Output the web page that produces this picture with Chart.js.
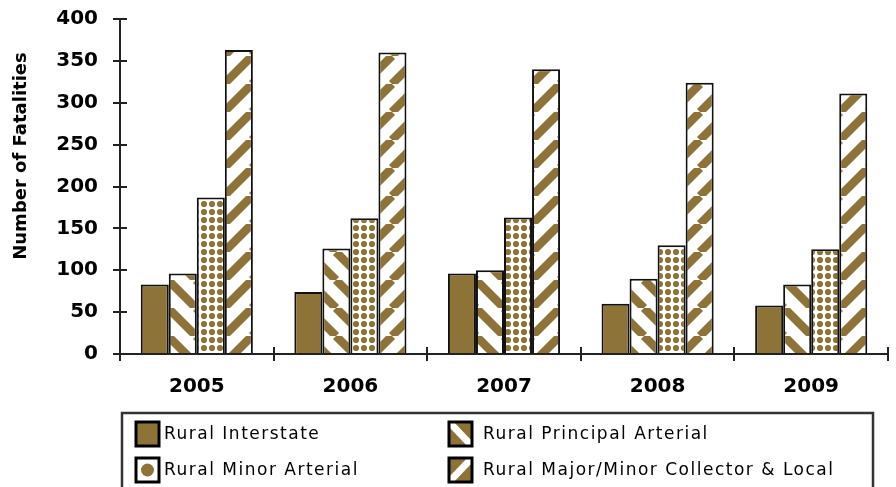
<!DOCTYPE html>
<html>
<head>
<meta charset="utf-8">
<script src="https://cdn.jsdelivr.net/npm/chart.js@4/dist/chart.umd.min.js"></script>
<style>
  html, body { margin: 0; padding: 0; background: #fff; }
  #wrap { width: 896px; height: 487px; position: relative; }
</style>
</head>
<body>
<div id="wrap"><canvas id="chart" width="896" height="487"></canvas></div>
<script>
// data
const years = ['2005', '2006', '2007', '2008', '2009'];
const seriesNames = ['Rural Interstate', 'Rural Principal Arterial', 'Rural Minor Arterial', 'Rural Major/Minor Collector & Local'];
const interstate = [83, 74, 96, 60, 58];
const principal = [96, 126, 100, 90, 83];
const minorArterial = [187, 162, 163, 130, 125];
const collector = [363, 360, 340, 324, 311];
const yTicks = [0, 50, 100, 150, 200, 250, 300, 350, 400];

const BROWN = '#8D7338';
const FONT = '"DejaVu Sans", sans-serif';

// pattern helpers
function stripePattern(dir) {
    const s = 28;
    const c = document.createElement('canvas');
    c.width = s; c.height = s;
    const g = c.getContext('2d');
    g.fillStyle = '#fff';
    g.fillRect(0, 0, s, s);
    g.strokeStyle = BROWN;
    g.lineWidth = 8.5;
    for (let k = -1; k <= 1; k++) {
        g.beginPath();
        if (dir === '/') {
            g.moveTo(k * s, s); g.lineTo(k * s + s, 0);
        } else {
            g.moveTo(k * s, 0); g.lineTo(k * s + s, s);
        }
        g.stroke();
    }
    return document.getElementById('chart').getContext('2d').createPattern(c, 'repeat');
}

function dotPattern() {
    const s = 8;
    const c = document.createElement('canvas');
    c.width = s; c.height = s;
    const g = c.getContext('2d');
    g.fillStyle = '#fff';
    g.fillRect(0, 0, s, s);
    g.fillStyle = BROWN;
    g.beginPath();
    g.arc(s / 2, s / 2, 3.1, 0, Math.PI * 2);
    g.fill();
    return document.getElementById('chart').getContext('2d').createPattern(c, 'repeat');
}

const fills = [BROWN, stripePattern('\\'), dotPattern(), stripePattern('/')];
const seriesData = [interstate, principal, minorArterial, collector];

// y axis title, drawn by hand so it sits where the original has it
const yTitlePlugin = {
    id: 'yTitle',
    afterDraw(chart) {
        const ctx = chart.ctx;
        ctx.save();
        ctx.translate(21, 156);
        ctx.rotate(-Math.PI / 2);
        ctx.font = 'bold 18px ' + FONT;
        ctx.fillStyle = '#000';
        ctx.textAlign = 'center';
        ctx.textBaseline = 'middle';
        ctx.fillText('Number of Fatalities', 0, 0);
        ctx.restore();
    }
};

// tick marks that cross the axis lines (inner half)
const crossTicksPlugin = {
    id: 'crossTicks',
    afterDraw(chart) {
        const ctx = chart.ctx;
        const xs = chart.scales.x, ys = chart.scales.y;
        const area = chart.chartArea;
        ctx.save();
        ctx.strokeStyle = '#222';
        ctx.lineWidth = 2;
        ctx.beginPath();
        for (let i = 0; i <= years.length; i++) {
            const px = Math.round(xs.getPixelForValue(i - 0.5));
            ctx.moveTo(px, area.bottom);
            ctx.lineTo(px, area.bottom - 7);
        }
        yTicks.forEach(v => {
            const py = Math.round(ys.getPixelForValue(v));
            ctx.moveTo(area.left, py);
            ctx.lineTo(area.left + 7, py);
        });
        ctx.stroke();
        ctx.restore();
    }
};

// boxed 2x2 legend under the axis
const boxLegendPlugin = {
    id: 'boxLegend',
    afterDraw(chart) {
        const ctx = chart.ctx;
        ctx.save();
        ctx.strokeStyle = '#333';
        ctx.lineWidth = 2.5;
        ctx.strokeRect(122, 413, 751, 100);

        const cols = [136, 449];
        const textX = [164, 483];
        const rows = [422, 458];
        ctx.font = '17px ' + FONT;
        ctx.textBaseline = 'middle';
        if ('letterSpacing' in ctx) ctx.letterSpacing = '1.5px';

        chart.data.datasets.forEach((ds, i) => {
            const x = cols[i % 2];
            const y = rows[Math.floor(i / 2)];
            const w = 23, h = 24;
            if (i === 2) {
                ctx.fillStyle = '#fff';
                ctx.fillRect(x, y, w, h);
                ctx.fillStyle = BROWN;
                ctx.beginPath();
                ctx.arc(x + w / 2, y + h / 2, 6.5, 0, Math.PI * 2);
                ctx.fill();
            } else {
                ctx.fillStyle = BROWN;
                ctx.fillRect(x, y, w, h);
                if (i !== 0) {
                    ctx.save();
                    ctx.beginPath();
                    ctx.rect(x, y, w, h);
                    ctx.clip();
                    ctx.strokeStyle = '#fff';
                    ctx.lineWidth = 7;
                    ctx.beginPath();
                    if (i === 1) { ctx.moveTo(x, y); ctx.lineTo(x + w, y + h); }
                    else { ctx.moveTo(x, y + h); ctx.lineTo(x + w, y); }
                    ctx.stroke();
                    ctx.restore();
                }
            }
            ctx.strokeStyle = '#000';
            ctx.lineWidth = 3;
            ctx.strokeRect(x, y, w, h);
            ctx.fillStyle = '#000';
            ctx.fillText(ds.label, textX[i % 2], y + h / 2 + 1);
        });
        ctx.restore();
    }
};

new Chart(document.getElementById('chart'), {
    type: 'bar',
    data: {
        labels: years,
        datasets: seriesNames.map((name, i) => ({
            label: name,
            data: seriesData[i],
            backgroundColor: fills[i],
            borderColor: '#111',
            borderWidth: 2,
            categoryPercentage: 0.73,
            barPercentage: 1.0
        }))
    },
    options: {
        responsive: false,
        animation: false,
        layout: { padding: { top: 19, right: 8, bottom: 88, left: 0 } },
        plugins: {
            legend: { display: false },
            tooltip: { enabled: false },
            title: { display: false }
        },
        scales: {
            x: {
                offset: true,
                grid: { display: true, drawOnChartArea: false, drawTicks: true, tickLength: 7, color: '#222', lineWidth: 2 },
                border: { display: true, color: '#222', width: 2 },
                ticks: { color: '#000', font: { family: FONT, size: 20, weight: 'bold' }, padding: 14 },
                afterFit(scale) { scale.height = 45; scale.paddingLeft = 0; scale.paddingRight = 0; }
            },
            y: {
                min: 0,
                max: 400,
                afterBuildTicks(scale) { scale.ticks = yTicks.map(v => ({ value: v })); },
                grid: { display: true, drawOnChartArea: false, drawTicks: true, tickLength: 7, color: '#222', lineWidth: 2 },
                border: { display: true, color: '#222', width: 2 },
                ticks: { color: '#000', font: { family: FONT, size: 20, weight: 'bold' }, padding: 15 },
                afterFit(scale) { scale.width = 120; scale.paddingTop = 0; scale.paddingBottom = 0; }
            }
        }
    },
    plugins: [yTitlePlugin, crossTicksPlugin, boxLegendPlugin]
});
</script>
</body>
</html>
